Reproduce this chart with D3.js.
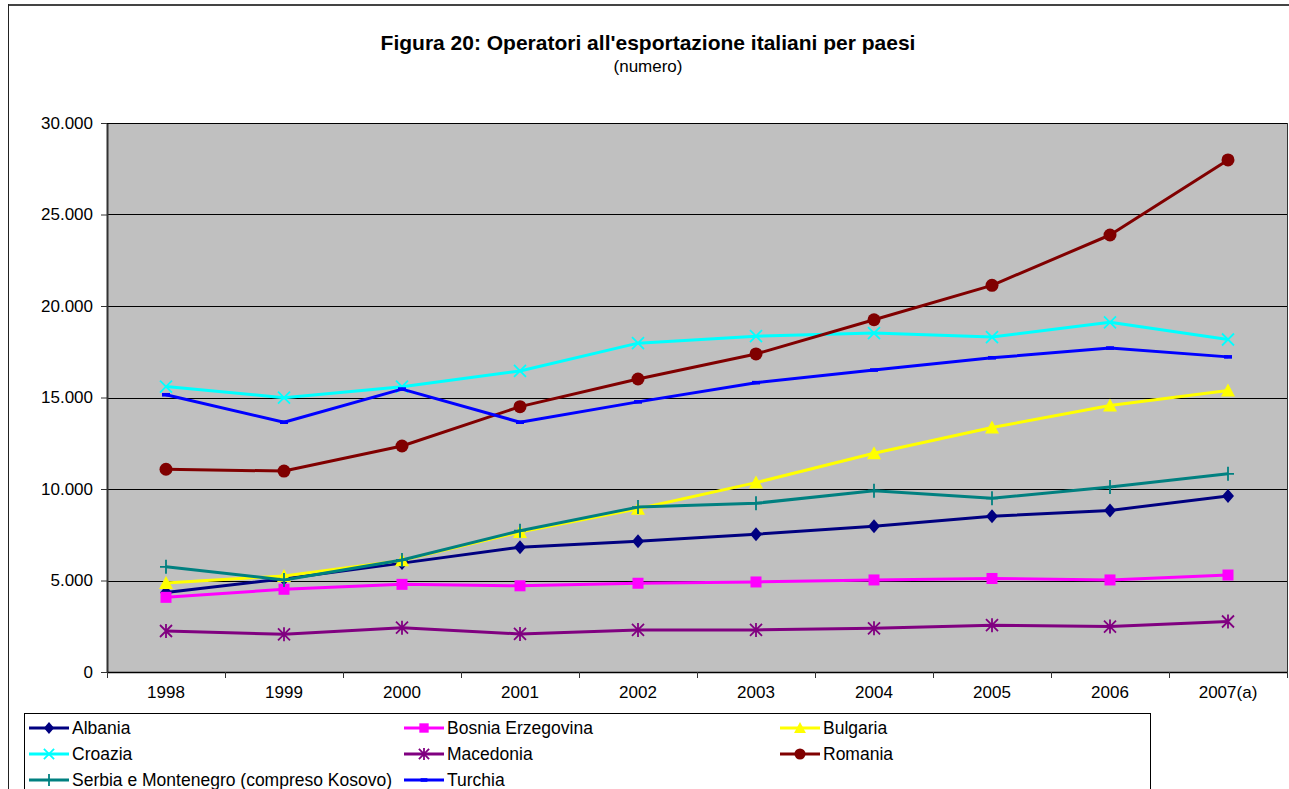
<!DOCTYPE html>
<html>
<head>
<meta charset="utf-8">
<script src="https://cdn.jsdelivr.net/npm/d3@7"></script>
<style>
  html, body { margin: 0; padding: 0; background: #fff; }
  svg { display: block; font-family: "Liberation Sans", Arial, sans-serif; }
</style>
</head>
<body>
<svg id="chart" width="1289" height="789"></svg>
<script>
// Years on the category axis
const years = ["1998", "1999", "2000", "2001", "2002", "2003", "2004", "2005", "2006", "2007(a)"];

// Number of Italian exporters per destination country
const albania   = [4350, 5100, 5950, 6820, 7150, 7530, 7960, 8510, 8830, 9620];
const bosnia    = [4080, 4520, 4790, 4710, 4850, 4920, 5030, 5110, 5030, 5300];
const bulgaria  = [4870, 5250, 6100, 7650, 8920, 10350, 11950, 13360, 14560, 15380];
const croazia   = [15600, 14990, 15590, 16450, 17970, 18350, 18520, 18300, 19110, 18170];
const macedonia = [2240, 2060, 2420, 2080, 2300, 2300, 2390, 2560, 2480, 2760];
const romania   = [11080, 10980, 12350, 14500, 16010, 17380, 19250, 21130, 23880, 27980];
const serbia    = [5750, 5030, 6120, 7720, 9010, 9220, 9910, 9490, 10110, 10830];
const turchia   = [15150, 13650, 15460, 13650, 14760, 15810, 16500, 17170, 17700, 17220];

const yTicks = [0, 5000, 10000, 15000, 20000, 25000, 30000];

const seriesNames = ["Albania", "Bosnia Erzegovina", "Bulgaria", "Croazia", "Macedonia",
                     "Romania", "Serbia e Montenegro (compreso Kosovo)", "Turchia"];

const series = [
  { name: seriesNames[0], values: albania,   color: "#000080", marker: "diamond" },
  { name: seriesNames[1], values: bosnia,    color: "#FF00FF", marker: "square" },
  { name: seriesNames[2], values: bulgaria,  color: "#FFFF00", marker: "triangle" },
  { name: seriesNames[3], values: croazia,   color: "#00FFFF", marker: "x" },
  { name: seriesNames[4], values: macedonia, color: "#800080", marker: "asterisk" },
  { name: seriesNames[5], values: romania,   color: "#800000", marker: "circle" },
  { name: seriesNames[6], values: serbia,    color: "#008080", marker: "plus" },
  { name: seriesNames[7], values: turchia,   color: "#0000FF", marker: "dash" }
];

const svg = d3.select("#chart");
const W = 1289, H = 789;
const plot = { left: 107, top: 123, right: 1287, bottom: 672 };

// Italian number format: dot as thousands separator
const itLocale = d3.formatLocale({ decimal: ",", thousands: ".", grouping: [3], currency: ["€", ""] });
const fmt = itLocale.format(",d");

const x = d3.scaleBand().domain(years).range([plot.left, plot.right]).padding(0);
const y = d3.scaleLinear().domain([0, 30000]).range([plot.bottom, plot.top]);

// Outer chart frame
svg.append("rect").attr("x", 0).attr("y", 0).attr("width", W).attr("height", H).attr("fill", "#fff");
svg.append("line").attr("x1", 8).attr("x2", 1289).attr("y1", 5).attr("y2", 5)
  .attr("stroke", "#444").attr("stroke-width", 2);
svg.append("line").attr("x1", 8.5).attr("x2", 8.5).attr("y1", 4).attr("y2", H)
  .attr("stroke", "#222").attr("stroke-width", 1);

// Title
svg.append("text").attr("x", 648).attr("y", 50).attr("text-anchor", "middle")
  .attr("font-size", 21).attr("font-weight", "bold").attr("fill", "#000")
  .text("Figura 20: Operatori all'esportazione italiani per paesi");
svg.append("text").attr("x", 648).attr("y", 72).attr("text-anchor", "middle")
  .attr("font-size", 17).attr("fill", "#000").text("(numero)");

// Plot background
svg.append("rect").attr("x", plot.left).attr("y", plot.top)
  .attr("width", plot.right - plot.left).attr("height", plot.bottom - plot.top)
  .attr("fill", "#C0C0C0");

// Horizontal gridlines
svg.append("g").selectAll("line").data(yTicks.filter(d => d > 0)).join("line")
  .attr("x1", plot.left).attr("x2", plot.right)
  .attr("y1", d => Math.round(y(d)) + 0.5).attr("y2", d => Math.round(y(d)) + 0.5)
  .attr("stroke", "#000").attr("stroke-width", 1);

// Right border of plot
svg.append("line").attr("x1", plot.right + 0.5).attr("x2", plot.right + 0.5)
  .attr("y1", plot.top).attr("y2", plot.bottom).attr("stroke", "#333").attr("stroke-width", 1);

// Y axis
const yAxis = d3.axisLeft(y).tickValues(yTicks).tickFormat(fmt).tickSizeInner(6).tickSizeOuter(0).tickPadding(8);
const gy = svg.append("g").attr("transform", `translate(${plot.left},0)`).call(yAxis);
gy.select(".domain").attr("stroke", "#333").attr("stroke-width", 2);
gy.selectAll(".tick line").attr("stroke", "#333");
gy.selectAll(".tick text").attr("font-size", 17).attr("fill", "#000")
  .attr("font-family", "Liberation Sans, Arial, sans-serif");

// X axis: ticks sit on category boundaries
const xAxis = d3.axisBottom(x).tickSize(0).tickPadding(14);
const gx = svg.append("g").attr("transform", `translate(0,${plot.bottom})`).call(xAxis);
gx.select(".domain").attr("stroke", "#000").attr("stroke-width", 1.5);
gx.selectAll(".tick text").attr("font-size", 17).attr("fill", "#000")
  .attr("font-family", "Liberation Sans, Arial, sans-serif");
const boundaries = years.map(d => x(d)).concat([x(years[years.length - 1]) + x.bandwidth()]);
svg.append("g").selectAll("line").data(boundaries).join("line")
  .attr("x1", d => Math.round(d) + 0.5).attr("x2", d => Math.round(d) + 0.5)
  .attr("y1", plot.bottom).attr("y2", plot.bottom + 6)
  .attr("stroke", "#333").attr("stroke-width", 1);

// Plot top edge
svg.append("line").attr("x1", plot.left).attr("x2", plot.right)
  .attr("y1", plot.top + 0.5).attr("y2", plot.top + 0.5).attr("stroke", "#000");

// Marker drawing
function drawMarker(g, type, cx, cy, color, s) {
  s = s || 1;
  switch (type) {
    case "diamond":
      g.append("path").attr("d", `M${cx},${cy - 7 * s}L${cx + 6 * s},${cy}L${cx},${cy + 7 * s}L${cx - 6 * s},${cy}Z`)
        .attr("fill", color); break;
    case "square":
      g.append("rect").attr("x", cx - 5.5 * s).attr("y", cy - 5.5 * s)
        .attr("width", 11 * s).attr("height", 11 * s).attr("fill", color); break;
    case "triangle":
      g.append("path").attr("d", `M${cx},${cy - 7 * s}L${cx + 7 * s},${cy + 6 * s}L${cx - 7 * s},${cy + 6 * s}Z`)
        .attr("fill", color); break;
    case "circle":
      g.append("circle").attr("cx", cx).attr("cy", cy).attr("r", 6.5 * s).attr("fill", color); break;
    case "x":
      g.append("path").attr("d", `M${cx - 6 * s},${cy - 6 * s}L${cx + 6 * s},${cy + 6 * s}M${cx + 6 * s},${cy - 6 * s}L${cx - 6 * s},${cy + 6 * s}`)
        .attr("stroke", color).attr("stroke-width", 1.8).attr("fill", "none"); break;
    case "asterisk":
      g.append("path").attr("d", `M${cx - 6 * s},${cy - 6 * s}L${cx + 6 * s},${cy + 6 * s}M${cx + 6 * s},${cy - 6 * s}L${cx - 6 * s},${cy + 6 * s}M${cx},${cy - 7 * s}L${cx},${cy + 7 * s}`)
        .attr("stroke", color).attr("stroke-width", 1.8).attr("fill", "none"); break;
    case "plus":
      g.append("path").attr("d", `M${cx - 6 * s},${cy}L${cx + 6 * s},${cy}M${cx},${cy - 7 * s}L${cx},${cy + 7 * s}`)
        .attr("stroke", color).attr("stroke-width", 1.8).attr("fill", "none"); break;
    case "dash":
      g.append("rect").attr("x", cx - 4 * s).attr("y", cy - 1.8).attr("width", 8 * s).attr("height", 3.6)
        .attr("fill", color); break;
  }
}

// Series lines and markers
const line = d3.line().x((d, i) => x(years[i]) + x.bandwidth() / 2).y(d => y(d));
const gSeries = svg.append("g");
series.forEach(s => {
  const g = gSeries.append("g");
  g.append("path").attr("d", line(s.values)).attr("fill", "none")
    .attr("stroke", s.color).attr("stroke-width", 3).attr("stroke-linejoin", "round");
  s.values.forEach((v, i) => drawMarker(g, s.marker, x(years[i]) + x.bandwidth() / 2, y(v), s.color, 1));
});

// Legend
const legend = svg.append("g");
legend.append("rect").attr("x", 24.5).attr("y", 713.5).attr("width", 1126).attr("height", 100)
  .attr("fill", "#fff").attr("stroke", "#000").attr("stroke-width", 1);
const colX = [29, 404, 780];
const rowY = [728, 754, 780];
series.forEach((s, i) => {
  const col = i % 3, row = Math.floor(i / 3);
  const lx = colX[col], ly = rowY[row];
  const g = legend.append("g");
  g.append("line").attr("x1", lx).attr("x2", lx + 40).attr("y1", ly).attr("y2", ly)
    .attr("stroke", s.color).attr("stroke-width", 3);
  drawMarker(g, s.marker, lx + 20, ly, s.color, 0.85);
  g.append("text").attr("x", lx + 43).attr("y", ly + 6).attr("font-size", 17.5).attr("fill", "#000")
    .text(s.name);
});
</script>
</body>
</html>
